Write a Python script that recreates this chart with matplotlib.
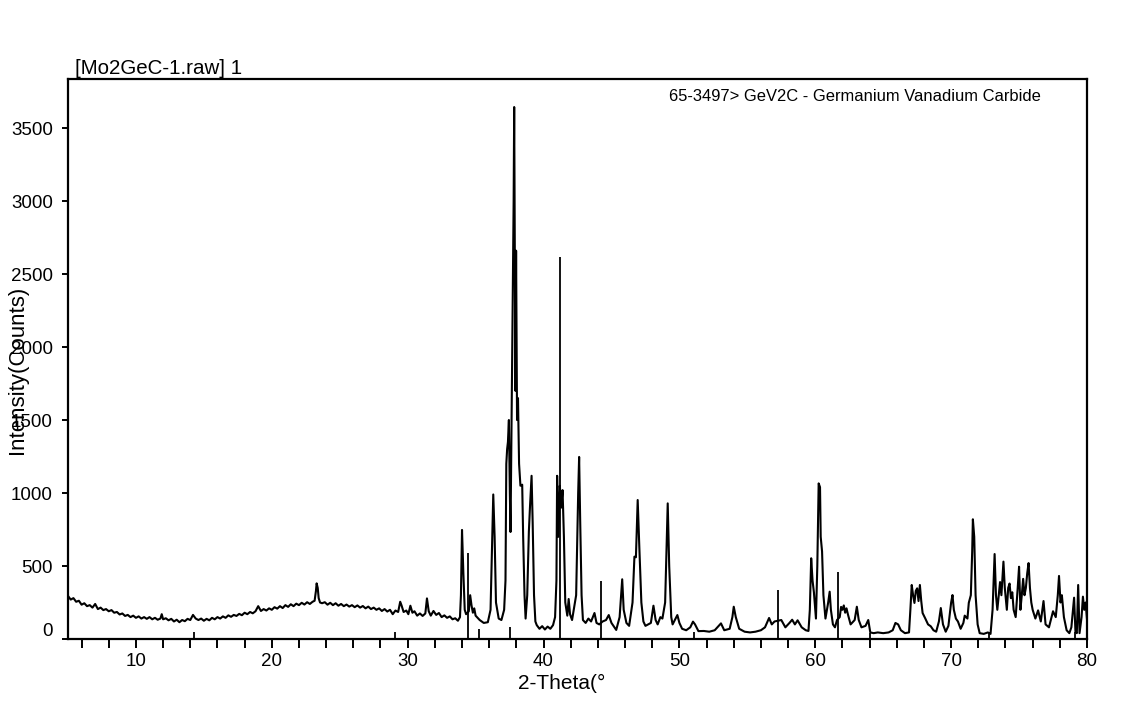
import numpy as np
import matplotlib
matplotlib.use("Agg")
import matplotlib.pyplot as plt
from matplotlib.ticker import MultipleLocator, FuncFormatter

plt.rcParams['font.family'] = ['Liberation Sans', 'DejaVu Sans']

two_theta = [
    5.0, 5.2, 5.4, 5.6, 5.8, 6.0, 6.2, 6.4, 6.6, 6.8, 7.0, 7.2, 7.4, 7.6, 7.8,
    8.0, 8.2, 8.4, 8.6, 8.8, 9.0, 9.2, 9.4, 9.6, 9.8, 10.0, 10.2, 10.4, 10.6, 10.8,
    11.0, 11.2, 11.4, 11.6, 11.8, 11.9, 12.0, 12.2, 12.4, 12.6, 12.8, 13.0, 13.2,
    13.4, 13.6, 13.8, 14.0, 14.2, 14.4, 14.6, 14.8, 15.0, 15.2, 15.4, 15.6, 15.8,
    16.0, 16.2, 16.4, 16.6, 16.8, 17.0, 17.2, 17.4, 17.6, 17.8, 18.0, 18.2, 18.4,
    18.6, 18.8, 19.0, 19.2, 19.4, 19.6, 19.8, 20.0, 20.2, 20.4, 20.6, 20.8, 21.0,
    21.2, 21.4, 21.6, 21.8, 22.0, 22.2, 22.4, 22.6, 22.8, 23.0, 23.15, 23.25, 23.3,
    23.38, 23.45, 23.55, 23.7, 23.9, 24.1, 24.3, 24.5, 24.7, 24.9, 25.1, 25.3, 25.5,
    25.7, 25.9, 26.1, 26.3, 26.5, 26.7, 26.9, 27.1, 27.3, 27.5, 27.7, 27.9, 28.1,
    28.3, 28.5, 28.7, 28.9, 29.1, 29.3, 29.45, 29.55, 29.7, 29.9, 30.05, 30.2, 30.35,
    30.5, 30.7, 30.9, 31.1, 31.3, 31.42, 31.55, 31.7, 31.9, 32.1, 32.3, 32.5, 32.7,
    32.9, 33.1, 33.3, 33.5, 33.7, 33.85,
    33.92, 34.0, 34.1, 34.2, 34.3, 34.5, 34.6, 34.7, 34.8, 34.9, 35.0, 35.3, 35.6,
    35.9, 36.1, 36.2, 36.3, 36.4, 36.5, 36.7, 36.9, 37.1, 37.2, 37.26, 37.32, 37.38,
    37.45, 37.52, 37.57, 37.65, 37.72, 37.8, 37.84, 37.88, 37.93, 37.98, 38.05, 38.12,
    38.2, 38.3, 38.43, 38.5, 38.6, 38.68, 38.8, 38.92, 39.0, 39.12, 39.2, 39.3, 39.4,
    39.5, 39.7, 39.9, 40.1, 40.3, 40.5, 40.7, 40.85, 40.95, 41.0, 41.1, 41.2, 41.3,
    41.4, 41.5, 41.6, 41.75, 41.85, 41.95, 42.1, 42.4, 42.55, 42.62, 42.7, 42.8, 42.9,
    43.1, 43.3, 43.5, 43.75, 43.9, 44.1, 44.35, 44.6, 44.8, 45.0, 45.35, 45.6, 45.79,
    45.9, 46.1, 46.3, 46.55, 46.69, 46.8, 46.93, 47.05, 47.2, 47.35, 47.5, 47.9, 48.09,
    48.25, 48.4, 48.6, 48.75, 48.95, 49.05, 49.14, 49.25, 49.4, 49.5, 49.85, 50.0,
    50.2, 50.5, 50.8, 51.0, 51.15, 51.4, 51.8, 52.2, 52.6, 53.06, 53.3, 53.7, 53.9,
    54.0, 54.15, 54.4, 54.8, 55.2, 55.6, 56.0, 56.3, 56.6, 56.8, 57.0, 57.5, 57.8,
    58.1, 58.3, 58.5, 58.7, 59.0, 59.3, 59.5, 59.6, 59.7, 59.8, 59.9, 60.05, 60.15,
    60.25, 60.35, 60.4, 60.5, 60.6, 60.75, 60.95, 61.06, 61.15, 61.3, 61.45, 61.6,
    61.8, 61.9, 62.0, 62.1, 62.2, 62.3, 62.4, 62.6, 62.9, 63.06, 63.2, 63.4, 63.7,
    63.9, 64.05, 64.3, 64.6, 65.0, 65.4, 65.7, 65.9, 66.1, 66.3, 66.6, 66.9, 67.0,
    67.1, 67.2, 67.3, 67.4, 67.5, 67.6, 67.7, 67.8, 67.9, 68.1, 68.3, 68.5, 68.7,
    68.9, 69.1, 69.24, 69.4, 69.6, 69.8, 70.0, 70.1, 70.2, 70.35, 70.5, 70.7, 70.9,
    71.0, 71.2, 71.3, 71.45, 71.55, 71.6, 71.7, 71.8, 71.95, 72.1, 72.4, 72.7, 72.9,
    73.05, 73.2, 73.3, 73.4, 73.6, 73.7, 73.85, 73.95, 74.1, 74.2, 74.3, 74.4, 74.5,
    74.6, 74.75, 74.9, 75.0, 75.1, 75.2, 75.3, 75.4, 75.5, 75.6, 75.7, 75.8, 75.9,
    76.0, 76.2, 76.4, 76.6, 76.8, 76.95, 77.2, 77.5, 77.7, 77.85, 77.94, 78.05, 78.15,
    78.3, 78.5, 78.7, 78.85, 79.05, 79.15, 79.25, 79.35, 79.45, 79.6, 79.7, 79.8,
    79.9, 80.0,
]
counts = [
    295, 270, 280, 255, 262, 235, 245, 225, 232, 215, 240, 205, 215, 198, 205,
    190, 198, 180, 185, 168, 175, 158, 165, 150, 160, 145, 155, 140, 150, 138,
    150, 135, 145, 132, 140, 170, 135, 142, 128, 138, 120, 132, 115,
    130, 122, 138, 130, 165, 140, 130, 140, 125, 138, 128, 145, 135,
    150, 140, 155, 145, 162, 152, 165, 158, 172, 163, 180, 170, 185,
    176, 190, 225, 192, 205, 195, 210, 200, 218, 208, 225, 212, 232,
    220, 238, 225, 242, 232, 248, 236, 252, 240, 255, 262, 330, 381,
    350, 280, 250, 245, 252, 235, 248, 232, 245, 228, 240, 225, 236,
    222, 232, 218, 230, 215, 226, 210, 222, 205, 215, 200, 210, 192,
    205, 188, 200, 170, 195, 185, 255, 230, 185, 195, 170, 228, 180,
    190, 160, 175, 158, 175, 278, 190, 160, 192, 165, 178, 150, 162,
    145, 155, 135, 142, 125, 150,
    300, 747, 450, 200, 170, 190, 300, 230, 180, 210, 160, 130, 110,
    115, 200, 600, 990, 700, 250, 140, 130, 200, 400, 1200, 1300, 1350,
    1500, 1000, 733, 1500, 2233, 3000, 3644, 2800, 1700, 2660, 1500, 1650,
    1200, 1050, 1057, 700, 300, 140, 300, 735, 900, 1118, 800, 300, 120,
    95, 70, 88, 65, 85, 70, 95, 150, 400, 1118, 700, 1050, 900,
    1020, 700, 250, 160, 274, 170, 130, 300, 1000, 1247, 800, 300, 130,
    110, 140, 120, 178, 110, 100, 120, 130, 164, 110, 62, 150, 409,
    200, 110, 90, 250, 564, 560, 952, 630, 250, 120, 90, 110, 228,
    130, 100, 150, 140, 250, 600, 929, 500, 150, 100, 164, 110,
    70, 60, 80, 119, 100, 54, 55, 50, 60, 107, 60, 70, 150,
    221, 150, 70, 50, 45, 50, 60, 80, 144, 100, 120, 130, 80,
    110, 132, 100, 128, 80, 60, 55, 200, 553, 400, 320, 140, 500,
    1066, 1040, 700, 600, 300, 140, 250, 324, 200, 100, 80, 130,
    150, 220, 200, 230, 180, 210, 170, 100, 130, 221, 130, 80, 90,
    130, 45, 40, 45, 40, 45, 60, 110, 100, 60, 40, 45, 200,
    370, 300, 247, 330, 347, 260, 370, 260, 178, 140, 100, 87, 60,
    50, 120, 212, 100, 50, 90, 250, 301, 200, 140, 120, 70, 110,
    160, 140, 248, 300, 600, 820, 700, 300, 100, 40, 35, 45, 35,
    200, 582, 300, 200, 390, 300, 530, 350, 200, 350, 380, 280, 320,
    200, 150, 350, 495, 200, 300, 412, 300, 350, 450, 520, 350, 250,
    200, 140, 196, 120, 260, 100, 80, 190, 150, 300, 432, 250, 300,
    150, 60, 40, 80, 283, 50, 40, 370, 40, 150, 290, 200,
    250, 134,
]

# reference card 65-3497 stick lines
stick_pos = [14.3, 29.05, 34.43, 35.25, 37.5, 41.2, 44.24, 51.05, 57.25, 61.68, 64.0, 72.8, 79.1]
stick_int = [50, 50, 590, 66, 84, 2620, 400, 50, 335, 461, 40, 45, 45]

fig = plt.figure(figsize=(11.40, 7.01), dpi=100)
ax = fig.add_axes([68 / 1140, 62 / 701, 1019 / 1140, 560 / 701])

ax.plot(two_theta, counts, color='black', lw=1.5)
ax.vlines(stick_pos, 0, stick_int, color='black', lw=1.3)

ax.set_xlim(5, 80)
ax.set_ylim(0, 3836)
ax.xaxis.set_major_locator(MultipleLocator(10))
ax.xaxis.set_minor_locator(MultipleLocator(2))
ax.yaxis.set_major_locator(MultipleLocator(500))
# zero label is drawn by hand a bit above the axis line
ax.yaxis.set_major_formatter(FuncFormatter(lambda v, p: '' if v == 0 else '%d' % v))

for s in ax.spines.values():
    s.set_linewidth(1.6)
ax.tick_params(axis='x', which='both', direction='out', length=6.5, width=1.4,
               labelsize=13.5, pad=3.5)
ax.tick_params(axis='y', which='major', direction='out', length=4.5, width=1.4,
               labelsize=13.5, pad=6.5)
ax.text(-15 / 1019, 7 / 560, '0', transform=ax.transAxes, fontsize=13.5,
        ha='right', va='center')

ax.set_xlabel('2-Theta(°', fontsize=15, va='center')
ax.xaxis.set_label_coords(0.4848, -0.080)
ax.set_ylabel('Intensity(Counts)', fontsize=16, va='center')
ax.yaxis.set_label_coords(-0.050, 0.48)

ax.text(7 / 1019, 1.0098, '[Mo2GeC-1.raw] 1', transform=ax.transAxes,
        fontsize=14.8, ha='left', va='baseline')
ax.text(0.5898, 0.9607, '65-3497> GeV2C - Germanium Vanadium Carbide',
        transform=ax.transAxes, fontsize=11.9, ha='left', va='baseline')

fig.savefig('out.png', dpi=100)
